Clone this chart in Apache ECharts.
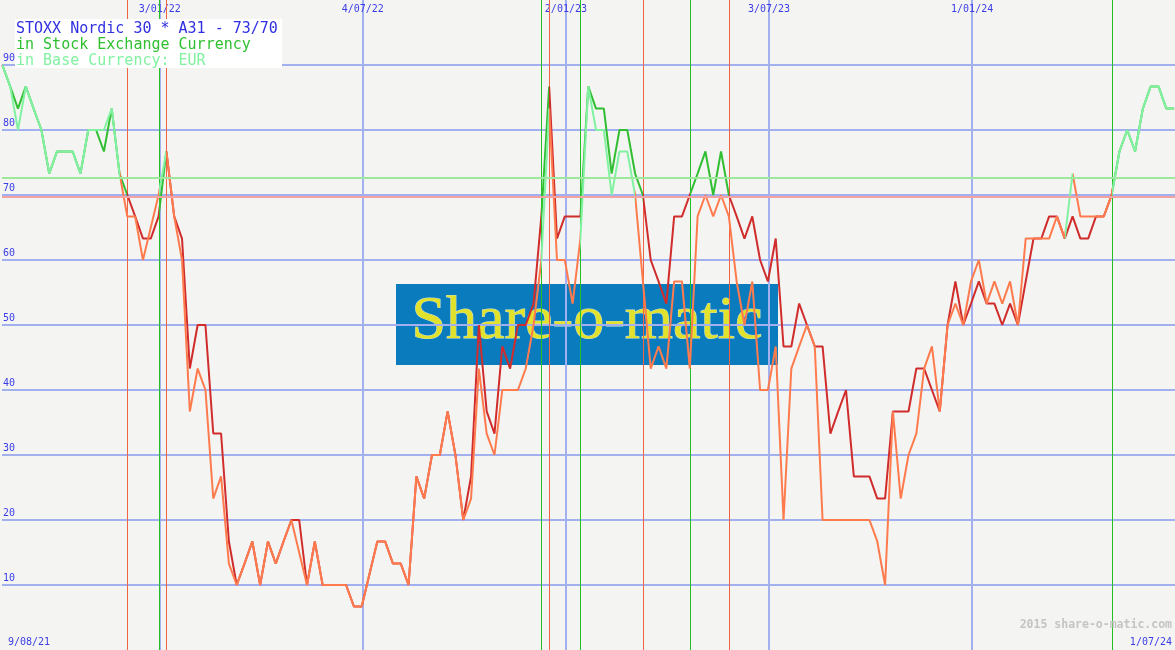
<!DOCTYPE html>
<html><head><meta charset="utf-8">
<script src="https://cdn.jsdelivr.net/npm/echarts@6/dist/echarts.min.js"></script>
<style>html,body{margin:0;padding:0;background:#f4f5f2;}#c{width:1175px;height:650px;}</style>
</head><body><div id="c"></div>
<script>
// ---- data (weekly points) ----
const firstWeek = Date.UTC(2021, 7, 15);
const DAY = 86400000;
const seCurrency = [
  90,86.7,83.3,86.7,83.3,80,73.3,76.7,76.7,76.7,
  73.3,80,80,76.7,83.3,73.3,70,66.7,63.3,63.3,
  66.7,76.7,66.7,63.3,43.3,50,50,33.3,33.3,16.7,
  10,13.3,16.7,10,16.7,13.3,16.7,20,20,10,
  16.7,10,10,10,10,6.7,6.7,11.7,16.7,16.7,
  13.3,13.3,10,26.7,23.3,30,30,36.7,30,20,
  26.7,50,36.7,33.3,46.7,43.3,50,50,53.3,66.7,
  86.7,63.3,66.7,66.7,66.7,86.7,83.3,83.3,73.3,80,
  80,73.3,70,60,56.7,53.3,66.7,66.7,70,73.3,
  76.7,70,76.7,70,66.7,63.3,66.7,60,56.7,63.3,
  46.7,46.7,53.3,50,46.7,46.7,33.3,36.7,40,26.7,
  26.7,26.7,23.3,23.3,36.7,36.7,36.7,43.3,43.3,40,
  36.7,50,56.7,50,53.3,56.7,53.3,53.3,50,53.3,
  50,56.7,63.3,63.3,66.7,66.7,63.3,66.7,63.3,63.3,
  66.7,66.7,70,76.7,80,76.7,83.3,86.7,86.7,83.3,
  83.3
];
const baseCurrency = [
  90,86.7,80,86.7,83.3,80,73.3,76.7,76.7,76.7,
  73.3,80,80,80,83.3,73.3,66.7,66.7,60,65,
  70,76.7,66.7,60,36.7,43.3,40,23.3,26.7,13.3,
  10,13.3,16.7,10,16.7,13.3,16.7,20,15,10,
  16.7,10,10,10,10,6.7,6.7,11.7,16.7,16.7,
  13.3,13.3,10,26.7,23.3,30,30,36.7,30,20,
  23.3,43.3,33.3,30,40,40,40,43.3,50,60,
  83.3,60,60,53.3,63.3,86.7,80,80,70,76.7,
  76.7,70,56.7,43.3,46.7,43.3,56.7,56.7,43.3,66.7,
  70,66.7,70,66.7,56.7,50,56.7,40,40,46.7,
  20,43.3,46.7,50,46.7,20,20,20,20,20,
  20,20,16.7,10,36.7,23.3,30,33.3,43.3,46.7,
  36.7,50,53.3,50,56.7,60,53.3,56.7,53.3,56.7,
  50,63.3,63.3,63.3,63.3,66.7,63.3,73.3,66.7,66.7,
  66.7,66.7,70,76.7,80,76.7,83.3,86.7,86.7,83.3,
  83.3
];
// week index ranges where each line is drawn in its "above" colour
const seAboveRanges = [[0,16],[20,21],[69,70],[74,82],[88,93],[142,150]];
const baseAboveRanges = [[0,15],[20,21],[69,70],[74,81],[136,137],[142,150]];
const buyWeeks = [20,69,74,88,142];
const sellWeeks = [16,21,70,82,93];
const seLevel = 69.7;
const baseLevel = 72.7;
const gridDates = [Date.UTC(2022,0,3), Date.UTC(2022,6,4), Date.UTC(2023,0,2), Date.UTC(2023,6,3), Date.UTC(2024,0,1)];
const titleLines = ['STOXX Nordic 30 * A31 - 73/70', 'in Stock Exchange Currency', 'in Base Currency: EUR'];

// ---- build ----
const weekDates = seCurrency.map(function (_, i) { return firstWeek + 7 * i * DAY; });
const C = {
  seUp: '#32be32', seDown: '#d02c2c', baseUp: '#82f2a2', baseDown: '#ff7b4e',
  grid: '#a3b0f0', axisText: '#3c3ce6', buy: '#22c022', sell: '#f06446'
};
function buildPieces(ranges, on, off) {
  const res = []; let cur = null;
  ranges.forEach(function (r) {
    const a = weekDates[r[0]], b = weekDates[r[1]];
    res.push(cur === null ? {lt: a, color: off} : {gte: cur, lt: a, color: off});
    res.push({gte: a, lt: b, color: on});
    cur = b;
  });
  res.push({gte: cur, color: off});
  return res;
}
function fmtDate(v) {
  const d = new Date(v);
  return d.getUTCDate() + '/' + String(d.getUTCMonth() + 1).padStart(2, '0') + '/' + String(d.getUTCFullYear()).slice(2);
}
const seData = weekDates.map(function (t, i) { return [t, seCurrency[i]]; });
const baseData = weekDates.map(function (t, i) { return [t, baseCurrency[i]]; });
const signalData = buyWeeks.map(function (k) { return [weekDates[k], 1]; })
  .concat(sellWeeks.map(function (k) { return [weekDates[k], 0]; }));

const xMin = firstWeek - 0.31 * DAY;
const xMax = xMin + 1051.1 * DAY;
const mono = 'DejaVu Sans Mono';

const chart = echarts.init(document.getElementById('c'), null, {renderer: 'canvas'});
chart.setOption({
  animation: false,
  backgroundColor: '#f4f5f2',
  grid: {left: 0, right: 0, top: 0, bottom: 0, containLabel: false},
  xAxis: {
    type: 'value', min: xMin, max: xMax, position: 'top', scale: true,
    axisLine: {show: false},
    axisTick: {show: false, customValues: gridDates},
    axisLabel: {inside: true, customValues: gridDates, formatter: fmtDate, color: C.axisText,
      fontFamily: mono, fontSize: 10, margin: 4},
    splitLine: {show: true, lineStyle: {color: C.grid, width: 2}}
  },
  yAxis: {
    type: 'value', min: 0, max: 100, interval: 10,
    axisLine: {show: false}, axisTick: {show: false},
    axisLabel: {inside: true, margin: 1, color: C.axisText, fontFamily: mono, fontSize: 10,
      verticalAlign: 'bottom', padding: [0, 0, 2, 0],
      formatter: function (v) { return (v === 0 || v === 100) ? '' : String(v); }},
    splitLine: {show: true, showMinLine: false, showMaxLine: false, lineStyle: {color: C.grid, width: 2}}
  },
  visualMap: [
    {type: 'piecewise', show: false, seriesIndex: 2, dimension: 0, pieces: buildPieces(seAboveRanges, C.seUp, C.seDown)},
    {type: 'piecewise', show: false, seriesIndex: 3, dimension: 0, pieces: buildPieces(baseAboveRanges, C.baseUp, C.baseDown)}
  ],
  series: [
    {type: 'custom', z: 1, silent: true, data: signalData, encode: {x: 0},
      renderItem: function (params, api) {
        const cs = params.coordSys;
        const x = Math.round(api.coord([api.value(0), 0])[0]) + 0.5;
        return {type: 'line', shape: {x1: x, y1: cs.y, x2: x, y2: cs.y + cs.height},
          style: {stroke: api.value(1) === 1 ? C.buy : C.sell, lineWidth: 1}};
      }},
    {type: 'line', data: seData, z: 1, silent: true, showSymbol: false, lineStyle: {opacity: 0, width: 0},
      markLine: {silent: true, symbol: 'none', label: {show: false}, animation: false,
        data: [{yAxis: baseLevel, lineStyle: {color: '#9ee89e', width: 2, type: 'solid'}},
               {yAxis: seLevel, lineStyle: {color: '#f4a2a2', width: 2, type: 'solid'}}]}},
    {type: 'line', name: 'Stock Exchange Currency', data: seData, z: 3, showSymbol: false, color: C.seDown,
      lineStyle: {width: 2}},
    {type: 'line', name: 'Base Currency', data: baseData, z: 4, showSymbol: false, color: C.baseDown,
      lineStyle: {width: 2}}
  ],
  graphic: [
    {type: 'rect', z: -10, shape: {x: 396, y: 284, width: 382, height: 81}, style: {fill: '#0a7bbd'}},
    {type: 'text', z: -9, x: 587, y: 322, style: {
      text: 'Share-o-matic', font: '62px "Liberation Serif"', align: 'center', verticalAlign: 'middle',
      fill: '#e2e22c', stroke: 'rgba(235,245,215,0.85)', lineWidth: 1,
      shadowColor: 'rgba(0,25,60,0.8)', shadowBlur: 3, shadowOffsetX: 3, shadowOffsetY: 3}},
    {type: 'rect', z: 100, shape: {x: 15, y: 19, width: 267, height: 49}, style: {fill: '#ffffff'}},
    {type: 'text', z: 101, x: 16, y: 29, style: {text: titleLines[0], font: '15px "DejaVu Sans Mono"', fill: '#3030e0', verticalAlign: 'middle'}},
    {type: 'text', z: 101, x: 16, y: 45, style: {text: titleLines[1], font: '15px "DejaVu Sans Mono"', fill: '#30c030', verticalAlign: 'middle'}},
    {type: 'text', z: 101, x: 16, y: 61, style: {text: titleLines[2], font: '15px "DejaVu Sans Mono"', fill: '#82f2a2', verticalAlign: 'middle'}},
    {type: 'text', z: 101, x: 8, y: 642, style: {text: fmtDate(Date.UTC(2021,7,9)), font: '10px "DejaVu Sans Mono"', fill: C.axisText, verticalAlign: 'middle'}},
    {type: 'text', z: 101, x: 1172, y: 642, style: {text: fmtDate(Date.UTC(2024,6,1)), font: '10px "DejaVu Sans Mono"', fill: C.axisText, align: 'right', verticalAlign: 'middle'}},
    {type: 'text', z: 101, x: 1172, y: 625, style: {text: '2015 share-o-matic.com', font: 'bold 11.5px "DejaVu Sans Mono"', fill: '#c4c4c4', align: 'right', verticalAlign: 'middle'}}
  ]
});
</script></body></html>
